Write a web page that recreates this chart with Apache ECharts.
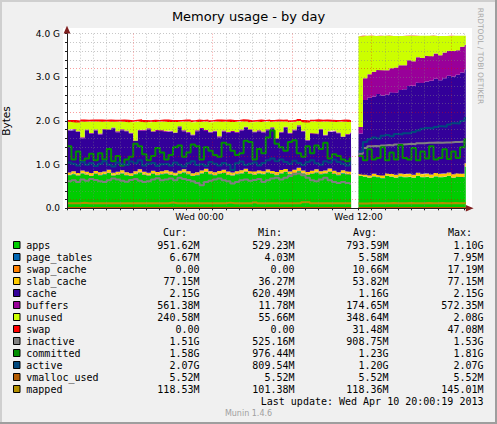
<!DOCTYPE html>
<html><head><meta charset="utf-8">
<script src="https://cdn.jsdelivr.net/npm/echarts@6/dist/echarts.min.js"></script>
<style>html,body{margin:0;padding:0;background:#F0F0F0}#c{width:497px;height:424px}</style>
</head><body><div id="c"></div><script>
// ---- time grid (minutes relative to Wed 00:00), 20-minute samples ----
const T_START = -600;     // Tue 14:00
const STEP = 20;
const LEFT_END = 686;     // data stops ~11:26
const RIGHT_START = 720;  // Wed 12:00 (after restart)
const RIGHT_END = 1206;   // ~20:06
const xTickLabels = {0: 'Wed 00:00', 720: 'Wed 12:00'};
const yTickLabels = {0: '0.0', 1: '1.0 G', 2: '2.0 G', 3: '3.0 G', 4: '4.0 G'};

// ---- values in GB, left part (Tue 14:00 .. Wed 11:20) ----
const appsLeft = [0.76,0.78,0.75,0.80,0.77,0.74,0.79,0.76,0.78,0.81,0.75,0.77,0.80,0.76,0.74,0.78,0.82,0.77,0.75,0.79,0.76,0.78,
  0.80,0.77,0.75,0.79,0.82,0.78,0.74,0.76,0.80,0.83,0.78,0.76,0.79,0.81,0.77,0.75,0.78,0.80,0.84,0.79,0.77,0.80,
  0.78,0.82,0.79,0.76,0.80,0.83,0.78,0.81,0.85,0.80,0.77,0.79,0.82,0.78,0.80,0.84,0.79,0.76,0.80,0.78,0.77];
const pageTablesLeft = [0.0050,0.0051,0.0052,0.0050,0.0053,0.0054,0.0052,0.0051,0.0053,0.0055,0.0054,0.0052,0.0050,0.0051,0.0053,0.0055,0.0056,0.0054,0.0053,0.0052,0.0054,0.0056,
  0.0055,0.0053,0.0052,0.0054,0.0056,0.0057,0.0055,0.0053,0.0052,0.0054,0.0055,0.0057,0.0056,0.0054,0.0053,0.0055,0.0057,0.0058,0.0056,0.0055,0.0054,0.0056,
  0.0057,0.0058,0.0056,0.0055,0.0057,0.0059,0.0058,0.0056,0.0055,0.0057,0.0058,0.0060,0.0059,0.0057,0.0056,0.0058,0.0060,0.0061,0.0059,0.0058,0.0060];
const swapCacheLeft = [0.012,0.013,0.014,0.012,0.015,0.013,0.016,0.014,0.012,0.013,0.015,0.017,0.014,0.013,0.012,0.014,0.016,0.015,0.013,0.014,0.012,0.015,
  0.016,0.014,0.013,0.015,0.017,0.016,0.014,0.013,0.012,0.014,0.015,0.016,0.013,0.014,0.016,0.017,0.015,0.013,0.012,0.014,0.016,0.015,
  0.014,0.013,0.015,0.017,0.016,0.014,0.013,0.015,0.016,0.014,0.012,0.013,0.015,0.016,0.014,0.013,0.015,0.017,0.016,0.014,0.013];
const slabLeft = [0.045,0.048,0.042,0.050,0.046,0.052,0.044,0.049,0.047,0.053,0.043,0.048,0.051,0.046,0.044,0.050,0.055,0.047,0.045,0.049,0.052,0.046,
  0.048,0.051,0.045,0.047,0.053,0.049,0.044,0.046,0.050,0.054,0.048,0.045,0.047,0.052,0.049,0.046,0.050,0.053,0.048,0.045,0.051,0.047,
  0.049,0.052,0.046,0.050,0.054,0.048,0.045,0.051,0.055,0.049,0.046,0.050,0.053,0.047,0.049,0.052,0.048,0.045,0.050,0.047,0.046];
const cacheLeft = [0.96,0.95,0.94,0.74,0.95,0.90,0.93,0.86,0.96,0.91,1.02,0.90,0.92,0.94,0.91,0.69,0.88,0.94,1.00,0.89,0.95,0.92,
  0.88,0.92,0.91,1.00,0.87,0.88,0.87,0.94,0.95,0.87,0.89,0.93,0.77,0.88,0.89,0.93,0.88,0.91,0.94,0.94,0.90,0.90,
  0.89,0.90,0.98,0.76,0.86,0.95,0.87,0.90,0.95,0.89,0.72,0.85,0.80,0.95,0.80,0.84,0.90,0.89,0.76,0.84,0.88];
const buffersLeft = [0.018,0.020,0.016,0.022,0.019,0.017,0.021,0.023,0.018,0.016,0.020,0.024,0.019,0.017,0.021,0.015,0.018,0.022,0.020,0.017,0.019,0.023,
  0.021,0.018,0.016,0.020,0.024,0.019,0.017,0.022,0.020,0.018,0.015,0.019,0.023,0.021,0.017,0.020,0.018,0.022,0.025,0.019,0.016,0.020,
  0.018,0.022,0.019,0.014,0.020,0.023,0.018,0.021,0.024,0.019,0.012,0.017,0.020,0.022,0.018,0.016,0.021,0.019,0.015,0.018,0.020];
const unusedLeft = [0.18,0.16,0.20,0.36,0.18,0.26,0.18,0.28,0.16,0.18,0.13,0.22,0.18,0.20,0.24,0.43,0.20,0.18,0.14,0.22,0.18,0.20,
  0.22,0.20,0.24,0.10,0.20,0.24,0.28,0.20,0.14,0.20,0.22,0.21,0.34,0.20,0.24,0.21,0.23,0.19,0.12,0.16,0.22,0.20,
  0.22,0.18,0.12,0.38,0.23,0.12,0.24,0.18,0.10,0.20,0.40,0.26,0.28,0.16,0.30,0.22,0.20,0.24,0.34,0.28,0.24];
const swapLeft = [0.044,0.045,0.046,0.045,0.044,0.046,0.047,0.045,0.044,0.045,0.046,0.045,0.044,0.045,0.046,0.047,0.045,0.044,0.045,0.046,0.045,0.044,
  0.045,0.046,0.045,0.044,0.045,0.046,0.047,0.046,0.045,0.044,0.045,0.046,0.045,0.044,0.045,0.046,0.045,0.044,0.045,0.046,0.047,0.046,
  0.045,0.044,0.045,0.046,0.045,0.044,0.045,0.046,0.047,0.046,0.045,0.044,0.045,0.046,0.045,0.044,0.045,0.046,0.045,0.044,0.045];
const inactiveLeft = [0.62,0.64,0.60,0.66,0.63,0.67,0.65,0.62,0.60,0.64,0.68,0.66,0.63,0.61,0.65,0.67,0.63,0.60,0.62,0.66,0.69,0.64,
  0.66,0.68,0.64,0.70,0.67,0.65,0.62,0.58,0.53,0.60,0.63,0.66,0.68,0.64,0.62,0.57,0.60,0.64,0.66,0.63,0.65,0.67,
  0.60,0.64,0.68,0.70,0.66,0.70,0.74,0.78,0.80,0.76,0.70,0.64,0.62,0.66,0.70,0.64,0.60,0.58,0.60,0.58,0.56];
const committedLeft = [1.42,1.12,1.30,1.08,1.14,1.25,1.10,1.26,1.12,1.36,1.08,1.20,0.98,1.12,1.18,1.48,1.42,1.24,1.10,1.20,1.38,1.28,
  1.12,1.22,1.40,1.44,1.18,1.28,1.46,1.42,1.12,1.40,1.32,1.22,1.18,1.50,1.46,1.32,1.22,1.26,1.55,1.52,1.12,1.36,
  1.26,1.62,1.78,1.48,1.40,1.32,1.52,1.56,1.26,1.18,1.42,1.26,1.44,1.36,1.50,1.14,1.24,1.20,1.12,1.08,1.14];
const activeLeft = [1.05,1.02,0.98,1.06,1.00,1.04,0.97,1.02,1.08,1.00,0.96,1.05,1.01,0.99,1.07,1.03,1.10,0.98,1.02,1.04,0.97,1.01,
  1.02,0.98,1.05,1.00,0.96,1.03,1.08,0.99,1.01,0.97,1.06,1.02,0.98,1.04,1.00,0.88,1.03,1.07,0.99,1.02,1.05,0.98,
  1.04,1.10,1.14,1.08,1.12,1.06,1.02,1.09,1.04,0.99,1.06,1.10,1.03,1.00,1.08,1.05,1.12,1.06,1.02,0.98,1.04];
const vmallocLeft = [0.0055,0.0055,0.0055,0.0055,0.0055,0.0055,0.0055,0.0055,0.0055,0.0055,0.0055,0.0055,0.0055,0.0055,0.0055,0.0055,0.0055,0.0055,0.0055,0.0055,0.0055,0.0055,
  0.0055,0.0055,0.0055,0.0055,0.0055,0.0055,0.0055,0.0055,0.0055,0.0055,0.0055,0.0055,0.0055,0.0055,0.0055,0.0055,0.0055,0.0055,0.0055,0.0055,0.0055,0.0055,
  0.0055,0.0055,0.0055,0.0055,0.0055,0.0055,0.0055,0.0055,0.0055,0.0055,0.0055,0.0055,0.0055,0.0055,0.0055,0.0055,0.0055,0.0055,0.0055,0.0055,0.0055];
const mappedLeft = [0.115,0.116,0.117,0.128,0.116,0.115,0.117,0.116,0.115,0.116,0.117,0.116,0.115,0.116,0.117,0.116,0.115,0.116,0.117,0.116,0.115,0.116,
  0.117,0.132,0.116,0.115,0.116,0.117,0.116,0.115,0.116,0.117,0.116,0.115,0.116,0.117,0.130,0.116,0.115,0.116,0.117,0.116,0.135,0.116,
  0.115,0.116,0.117,0.116,0.115,0.116,0.117,0.116,0.115,0.138,0.140,0.116,0.115,0.116,0.117,0.116,0.115,0.116,0.117,0.116,0.115];

// ---- values in GB, right part (Wed 12:00 .. 20:00) ----
const appsRight = [0.74,0.72,0.70,0.73,0.71,0.69,0.74,0.72,0.70,0.73,0.71,0.72,0.70,0.74,0.71,0.72,0.70,0.73,0.71,0.72,0.74,0.70,0.72,0.71,0.95];
const pageTablesRight = [0.0062,0.0064,0.0066,0.0065,0.0067,0.0068,0.0066,0.0067,0.0069,0.0068,0.0066,0.0067,0.0069,0.0070,0.0068,0.0067,0.0069,0.0071,0.0070,0.0068,0.0069,0.0071,0.0072,0.0070,0.0067];
const swapCacheRight = [0,0,0,0,0,0,0,0,0,0,0,0,0,0,0,0,0,0,0,0,0,0,0,0,0];
const slabRight = [0.038,0.045,0.047,0.053,0.052,0.057,0.056,0.060,0.059,0.062,0.061,0.064,0.063,0.066,0.065,0.068,0.067,0.070,0.069,0.072,0.071,0.074,0.073,0.076,0.077];
const cacheRight = [0.93,1.71,1.78,1.77,1.85,1.83,1.80,1.87,1.88,1.91,1.95,2.01,2.04,2.07,2.09,2.11,2.15,2.16,2.15,2.18,2.22,2.24,2.26,2.32,2.15];
const buffersRight = [0.15,0.50,0.54,0.57,0.55,0.58,0.56,0.55,0.58,0.57,0.55,0.59,0.56,0.58,0.57,0.59,0.56,0.58,0.57,0.59,0.57,0.58,0.56,0.59,0.56];
const unusedRight = [2.08,0.97,0.88,0.82,0.78,0.79,0.79,0.74,0.72,0.67,0.67,0.56,0.58,0.49,0.51,0.46,0.47,0.40,0.44,0.38,0.34,0.35,0.33,0.25,0.21];
const swapRight = [0,0,0,0,0,0,0,0,0,0,0,0,0,0,0,0,0,0,0,0,0,0,0,0,0];
const inactiveRight = [1.25,1.38,1.42,1.43,1.42,1.44,1.45,1.44,1.46,1.46,1.47,1.48,1.47,1.49,1.49,1.50,1.50,1.51,1.50,1.51,1.51,1.52,1.52,1.53,1.51];
const committedRight = [1.20,1.10,1.35,1.12,1.15,1.40,1.10,1.28,1.12,1.45,1.15,1.12,1.38,1.10,1.30,1.14,1.42,1.12,1.15,1.35,1.13,1.30,1.15,1.40,1.58];
const activeRight = [1.30,1.52,1.58,1.62,1.60,1.66,1.68,1.65,1.70,1.69,1.72,1.72,1.75,1.78,1.82,1.84,1.83,1.86,1.88,1.87,1.92,1.95,1.94,2.00,2.07];
const vmallocRight = [0.0055,0.0055,0.0055,0.0055,0.0055,0.0055,0.0055,0.0055,0.0055,0.0055,0.0055,0.0055,0.0055,0.0055,0.0055,0.0055,0.0055,0.0055,0.0055,0.0055,0.0055,0.0055,0.0055,0.0055,0.0055];
const mappedRight = [0.108,0.112,0.115,0.117,0.116,0.118,0.117,0.119,0.118,0.117,0.118,0.119,0.118,0.117,0.118,0.119,0.118,0.117,0.119,0.118,0.118,0.119,0.118,0.117,0.119];

// ---- legend table ----
const names = ['apps','page_tables','swap_cache','slab_cache','cache','buffers','unused','swap','inactive','committed','active','vmalloc_used','mapped'];
const statCur = ['951.62M','6.67M','0.00','77.15M','2.15G','561.38M','240.58M','0.00','1.51G','1.58G','2.07G','5.52M','118.53M'];
const statMin = ['529.23M','4.03M','0.00','36.27M','620.49M','11.78M','55.66M','0.00','525.16M','976.44M','809.54M','5.52M','101.38M'];
const statAvg = ['793.59M','5.58M','10.66M','53.82M','1.16G','174.65M','348.64M','31.48M','908.75M','1.23G','1.20G','5.52M','118.36M'];
const statMax = ['1.10G','7.95M','17.19M','77.15M','2.15G','572.35M','2.08G','47.08M','1.53G','1.81G','2.07G','5.52M','145.01M'];
const statHeaders = ['Cur:','Min:','Avg:','Max:'];
const lastUpdate = 'Last update: Wed Apr 10 20:00:19 2013';

// ---- styles ----
const colors = ['#00CC00','#0066B3','#FF8000','#FFCC00','#330099','#990099','#CCFF00','#FF0000','#808080','#008F00','#00487D','#B35A00','#B38F00'];
const areaCount = 8;

const leftArrays = [appsLeft,pageTablesLeft,swapCacheLeft,slabLeft,cacheLeft,buffersLeft,unusedLeft,swapLeft,inactiveLeft,committedLeft,activeLeft,vmallocLeft,mappedLeft];
const rightArrays = [appsRight,pageTablesRight,swapCacheRight,slabRight,cacheRight,buffersRight,unusedRight,swapRight,inactiveRight,committedRight,activeRight,vmallocRight,mappedRight];

// rows are [value, minute]; value first so that the stack is applied to it
function build(left, right) {
  const d = [];
  left.forEach((v, k) => d.push([v, T_START + k * STEP]));
  d.push([left[left.length - 1], LEFT_END]);
  d.push([null, LEFT_END + 1]);
  right.forEach((v, k) => d.push([v, RIGHT_START + k * STEP]));
  d.push([right[right.length - 1], RIGHT_END]);
  return d;
}

const series = names.map((n, i) => {
  const s = {
    name: n, type: 'line', step: 'end', symbol: 'none', showSymbol: false,
    dimensions: ['v', 't'], encode: {x: 't', y: 'v'},
    data: build(leftArrays[i], rightArrays[i]), silent: true, animation: false,
    emphasis: {disabled: true}, connectNulls: false, itemStyle: {color: colors[i]}
  };
  if (i < areaCount) {
    s.stack = 'mem';
    s.lineStyle = {width: 0};
    s.areaStyle = {color: colors[i], opacity: 1};
    s.z = 2;
  } else {
    s.lineStyle = {width: 2, color: colors[i]};
    s.z = 3;
  }
  return s;
});

const MINOR = 'rgba(130,130,130,0.45)';
const MAJOR = 'rgba(240,0,0,0.38)';
const mono = '10px "DejaVu Sans Mono"';

const graphics = [];
graphics.push({type: 'rect', z: -1, silent: true, shape: {x: 63, y: 28, width: 409, height: 182}, style: {fill: '#FFFFFF'}});
graphics.push({type: 'rect', z: 100, silent: true, shape: {x: 0, y: 0, width: 497, height: 2}, style: {fill: '#CFCFCF'}});
graphics.push({type: 'rect', z: 100, silent: true, shape: {x: 0, y: 0, width: 2, height: 424}, style: {fill: '#CFCFCF'}});
graphics.push({type: 'rect', z: 100, silent: true, shape: {x: 0, y: 422, width: 497, height: 2}, style: {fill: '#9E9E9E'}});
graphics.push({type: 'rect', z: 100, silent: true, shape: {x: 495, y: 0, width: 2, height: 424}, style: {fill: '#9E9E9E'}});
graphics.push({type: 'polygon', z: 50, silent: true, shape: {points: [[63.6, 33.6], [67, 25.8], [70.4, 33.6]]}, style: {fill: '#7F1F1F'}});
graphics.push({type: 'polygon', z: 50, silent: true, shape: {points: [[465.8, 205], [473.6, 208.3], [465.8, 211.6]]}, style: {fill: '#7F1F1F'}});
graphics.push({type: 'text', x: 480, y: 56, rotation: -Math.PI / 2, silent: true,
  style: {text: 'RRDTOOL / TOBI OETIKER', font: '7.5px "DejaVu Sans"', fill: '#A8A8A8', textAlign: 'center', textVerticalAlign: 'middle', align: 'center', verticalAlign: 'middle'}});
const headerX = [163, 258, 353, 448];
statHeaders.forEach((h, j) => graphics.push({type: 'text', x: headerX[j], y: 232.5, silent: true,
  style: {text: h, font: mono, fill: '#000', textAlign: 'left', textVerticalAlign: 'middle', align: 'left', verticalAlign: 'middle'}}));
const colRight = [199.5, 294.5, 388.5, 483.5];
const stats = [statCur, statMin, statAvg, statMax];
names.forEach((n, i) => {
  const yc = 245 + 12 * i;
  graphics.push({type: 'rect', silent: true, shape: {x: 13.5, y: yc - 3.5, width: 6.5, height: 7}, style: {fill: colors[i], stroke: '#000', lineWidth: 1}});
  graphics.push({type: 'text', x: 26.3, y: yc, silent: true,
    style: {text: n, font: mono, fill: '#000', textAlign: 'left', textVerticalAlign: 'middle', align: 'left', verticalAlign: 'middle'}});
  stats.forEach((arr, j) => graphics.push({type: 'text', x: colRight[j], y: yc, silent: true,
    style: {text: arr[i], font: mono, fill: '#000', textAlign: 'right', textVerticalAlign: 'middle', align: 'right', verticalAlign: 'middle'}}));
});
graphics.push({type: 'text', x: 483.5, y: 401, silent: true,
  style: {text: lastUpdate, font: mono, fill: '#000', textAlign: 'right', textVerticalAlign: 'middle', align: 'right', verticalAlign: 'middle'}});
graphics.push({type: 'text', x: 248.5, y: 413.5, silent: true,
  style: {text: 'Munin 1.4.6', font: '8px "DejaVu Sans"', fill: '#A0A0A0', textAlign: 'center', textVerticalAlign: 'middle', align: 'center', verticalAlign: 'middle'}});

const chart = echarts.init(document.getElementById('c'), null, {renderer: 'svg'});
chart.setOption({
  animation: false,
  backgroundColor: '#F0F0F0',
  title: {text: 'Memory usage - by day', left: 'center', top: 5,
    textStyle: {fontFamily: 'DejaVu Sans', fontSize: 13, fontWeight: 'normal', color: '#000'}},
  grid: {left: 67, right: 31.2, top: 33.7, bottom: 215.7, show: false, outerBoundsMode: 'none', containLabel: false},
  xAxis: {
    type: 'value', min: T_START, max: RIGHT_END, interval: 60, z: 5,
    axisLine: {show: true, onZero: false, lineStyle: {color: '#1F1F1F', width: 1}},
    axisTick: {show: true, length: 2, lineStyle: {color: '#1F1F1F'}},
    axisLabel: {fontFamily: 'DejaVu Sans', fontSize: 9, color: '#000', margin: 4, showMinLabel: true, showMaxLabel: false,
      formatter: v => { const r = Math.round(v); return xTickLabels[r] !== undefined ? xTickLabels[r] : ''; }},
    splitLine: {show: true, showMinLine: false, showMaxLine: false,
      lineStyle: {color: [MINOR, MINOR, MINOR, MINOR, MAJOR, MINOR], type: [1, 2], width: 1}}
  },
  yAxis: {
    type: 'value', min: 0, max: 4, interval: 0.2, z: 5,
    name: 'Bytes', nameLocation: 'middle', nameGap: 56, nameRotate: 90,
    nameTextStyle: {fontFamily: 'DejaVu Sans', fontSize: 10.5, color: '#000'},
    axisLine: {show: true, onZero: false, lineStyle: {color: '#1F1F1F', width: 1}},
    axisTick: {show: true, length: 2, lineStyle: {color: '#1F1F1F'}},
    axisLabel: {fontFamily: 'DejaVu Sans', fontSize: 9, color: '#000', margin: 7,
      formatter: v => { const r = Math.round(v); return Math.abs(v - r) < 1e-6 && yTickLabels[r] !== undefined ? yTickLabels[r] : ''; }},
    splitLine: {show: true, showMinLine: false,
      lineStyle: {color: [MAJOR, MINOR, MINOR, MINOR, MINOR], type: [1, 2], width: 1}}
  },
  series: series,
  graphic: graphics
});
</script></body></html>
